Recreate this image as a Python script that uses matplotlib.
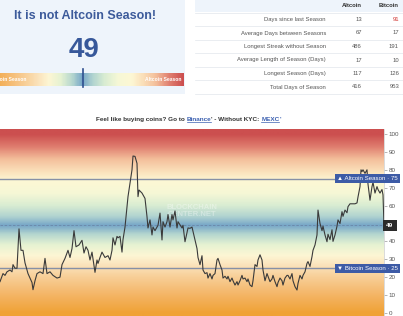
import numpy as np
import matplotlib.pyplot as plt
import matplotlib.colors as colors
from matplotlib.patches import Rectangle

plt.rcParams['font.family'] = ['Liberation Sans', 'DejaVu Sans']

# indice de temporada altcoin (lectura aproximada de la grafica)
dia = [0, 3, 5, 7, 10, 12, 13, 15, 17, 19, 21, 23, 25, 28, 30, 32, 33, 35, 37, 40,
       43, 45, 47, 50, 53, 57, 60, 62, 65, 68, 70, 72, 74, 76, 79, 82, 84, 86, 88, 90,
       92, 95, 97, 98, 100, 102, 105, 108, 110, 112, 113, 115, 117, 118, 120, 122, 123, 125, 127, 128,
       130, 132, 133, 135, 137, 138, 139, 142, 145, 147, 148, 150, 152, 153, 155, 158, 160, 162, 163, 165,
       167, 168, 170, 172, 173, 175, 177, 178, 182, 183, 185, 188, 190, 192, 193, 195, 197, 198, 200, 202,
       203, 205, 207, 208, 210, 212, 213, 215, 217, 218, 220, 222, 223, 225, 227, 228, 230, 232, 233, 235,
       237, 238, 240, 242, 243, 245, 247, 248, 250, 252, 253, 255, 257, 258, 260, 262, 263, 265, 267, 268,
       270, 272, 273, 275, 277, 278, 280, 282, 283, 285, 287, 288, 290, 292, 293, 295, 297, 298, 300, 302,
       303, 305, 307, 308, 310, 312, 313, 315, 317, 318, 320, 322, 323, 325, 327, 328, 330, 332, 333, 335,
       337, 338, 340, 342, 343, 345, 347, 348, 350, 352, 355, 357, 358, 360, 361, 362, 363, 365, 367, 368,
       370, 372, 373, 375, 377, 378, 380, 382, 383, 384]
indice = [17.5, 22, 21, 23, 24, 23, 27, 25, 25, 47, 35, 35, 28, 22, 19.5, 17, 13, 18, 22, 23,
          22, 30.5, 22, 23, 21, 19.5, 20, 27, 30.5, 35, 31, 36, 46, 37, 38, 40.6, 33.5, 37, 35, 29.6,
          34, 22.7, 29.6, 27.7, 31, 34, 31, 32, 29.6, 35, 42, 38, 42.8, 42, 42.8, 34, 41, 48, 59, 65,
          72.6, 80, 87.7, 87.5, 83.6, 65, 68.7, 67, 64, 53.8, 47.5, 52, 43.6, 48, 46, 49, 55.8, 40.8, 51, 48,
          51, 55, 48, 55, 52, 57, 47.5, 51, 47.5, 49, 39.8, 47.5, 47.3, 48, 45.6, 40.8, 36, 31, 27, 32,
          24, 22, 22.5, 19.5, 22, 19, 21, 22, 29.6, 30.5, 27, 24, 19.5, 20.5, 19, 20.5, 17.5, 19.5, 18, 15.6,
          17.5, 15.6, 18, 21, 19, 19.5, 17.5, 19, 15.6, 14.7, 18, 27, 26, 29.6, 32.5, 29.6, 24, 18, 22, 20.5,
          17.5, 19, 21, 17.5, 14.7, 17, 19.5, 18, 15.6, 19.5, 21, 21, 19, 22, 18, 14.7, 12.8, 16.5, 21, 19,
          21, 23, 27.7, 28.7, 26, 31.5, 35, 38, 43.6, 57.5, 50, 46, 48.5, 43.6, 39.8, 44, 41, 46.5, 40, 43.6,
          48.5, 52, 50, 56.6, 54, 57.5, 56, 59.4, 61, 61, 61, 61.5, 64.8, 70.6, 80, 79, 80, 78, 80, 72,
          63, 70.6, 73, 67, 70.6, 69, 67, 69, 66, 49]

valor_actual = 49
umbral_alt = 75
umbral_btc = 25

tabla_filas = ["Days since last Season", "Average Days between Seasons", "Longest Streak without Season",
               "Average Length of Season (Days)", "Longest Season (Days)", "Total Days of Season"]
tabla_alt = [13, 67, 486, 17, 117, 416]
tabla_btc = [91, 17, 191, 10, 126, 953]

# colores del fondo (valor, color)
paradas = [(0, '#f0a236'), (10, '#f4b566'), (20, '#f8cf98'), (27, '#fbe4bd'), (32, '#fdf6d4'),
           (38, '#e6f2d2'), (44, '#b4d6cf'), (49, '#76a6c8'), (54, '#b0d3d0'), (60, '#d8ecd2'),
           (67, '#f6f8d6'), (74, '#fdf7d4'), (79, '#fbe2bc'), (86, '#f4c09c'), (93, '#e07f70'),
           (100, '#cc4f4f')]
cmap = colors.LinearSegmentedColormap.from_list('temporada', [(v / 100, c) for v, c in paradas])

fig = plt.figure(figsize=(4.03, 3.16), dpi=100)
fig.patch.set_facecolor('white')

# capa superior en pixeles
top = fig.add_axes([0, 0, 1, 1])
top.axis('off')

top.add_patch(Rectangle((0, 0), 185, 94, fc='#eef4fb', ec='none', zorder=1))
top.text(85, 16, "It is not Altcoin Season!", ha='center', va='center', fontsize=9,
         fontweight='bold', color='#3d5b9b')
top.text(84, 50, str(valor_actual), ha='center', va='center', fontsize=20,
         fontweight='bold', color='#37589a')
barra = np.linspace(0, 100, 300)[None, :]
top.imshow(barra, cmap=cmap, vmin=0, vmax=100, extent=[-15, 184, 86, 73], aspect='auto', zorder=2)
top.set_xlim(0, 403)
top.set_ylim(316, 0)
top.text(-10, 79.5, "Bitcoin Season", ha='left', va='center', fontsize=3.6, color='white',
         fontweight='bold', zorder=3)
top.text(181, 79.5, "Altcoin Season", ha='right', va='center', fontsize=3.6, color='white',
         fontweight='bold', zorder=3)
top.plot([-15 + 1.99 * valor_actual] * 2, [69, 87], color='#2f4f8f', lw=1.2, zorder=3)

# tabla
top.add_patch(Rectangle((195, 0), 208, 12, fc='#eef4fb', ec='none', zorder=1))
top.text(362, 5.5, "Altcoin", ha='right', va='center', fontsize=4.2, fontweight='bold', color='#333333')
top.text(399, 5.5, "Bitcoin", ha='right', va='center', fontsize=4.2, fontweight='bold', color='#333333')
for i, fila in enumerate(tabla_filas):
    yy = 19.5 + i * 13.5
    top.plot([195, 403], [yy - 6.75, yy - 6.75], color='#e2e6eb', lw=0.5)
    top.text(326, yy, fila, ha='right', va='center', fontsize=4.2, color='#555555')
    top.text(362, yy, str(tabla_alt[i]), ha='right', va='center', fontsize=4.2, color='#555555')
    top.text(399, yy, str(tabla_btc[i]), ha='right', va='center', fontsize=4.2,
             color='#d0312d' if i == 0 else '#555555')
top.plot([195, 403], [19.5 + 6 * 13.5 - 6.75] * 2, color='#e2e6eb', lw=0.5)

# texto de enlaces
kw = dict(fontsize=4.6, fontweight='bold', va='bottom', ha='left')
t1 = top.text(96, 122, "Feel like buying coins? Go to ", color='#333333', **kw)
t2 = top.annotate("Binance", xy=(1, 0), xycoords=t1, color='#3a5fb0', **kw)
t3 = top.annotate("' - Without KYC: ", xy=(1, 0), xycoords=t2, color='#333333', **kw)
t4 = top.annotate("MEXC", xy=(1, 0), xycoords=t3, color='#3a5fb0', **kw)
t5 = top.annotate("'", xy=(1, 0), xycoords=t4, color='#3a5fb0', **kw)

# grafica principal
ax = fig.add_axes([0, 0, 384 / 403, (316 - 129) / 316])
ymin, ymax = -1.7, 102.8
fondo = np.linspace(ymin, ymax, 400)[:, None]
ax.imshow(fondo, cmap=cmap, vmin=0, vmax=100, origin='lower', aspect='auto',
          extent=[dia[0], dia[-1], ymin, ymax], zorder=0)
ax.set_xlim(dia[0], dia[-1])
ax.set_ylim(ymin, ymax)

ax.axhline(umbral_alt, color='#8690a6', lw=1.0, zorder=1)
ax.axhline(umbral_btc, color='#8690a6', lw=1.0, zorder=1)
ax.axhline(valor_actual, color='#6b86a8', lw=0.6, ls=(0, (3, 2)), zorder=1)
ax.text(192, 57, "BLOCKCHAIN\nCENTER.NET", ha='center', va='center', fontsize=5.5,
        color='white', alpha=0.35, fontweight='bold', linespacing=0.9, zorder=1)
ax.plot(dia, indice, color='#3a3a3a', lw=0.8, zorder=2)

ax.yaxis.tick_right()
marcas = np.arange(0, 101, 10)
ax.set_yticks(marcas)
ax.set_yticklabels(['' if m == 50 else str(m) for m in marcas])
ax.set_xticks([])
ax.tick_params(axis='y', labelsize=4.5, labelcolor='#555555', length=2, width=0.5,
               color='#999999', pad=1.5)
for s in ['top', 'left', 'bottom']:
    ax.spines[s].set_visible(False)
ax.spines['right'].set_color('#cccccc')
ax.spines['right'].set_linewidth(0.5)

trans = ax.get_yaxis_transform()
ax.text(1.036, umbral_alt, "\u25b2 Altcoin Season \u00b7 " + str(umbral_alt), transform=trans,
        ha='right', va='center', fontsize=4.4, color='white', clip_on=False, zorder=6,
        bbox=dict(boxstyle='square,pad=0.35', fc='#3d5ba6', ec='none'))
ax.text(1.036, umbral_btc, "\u25bc Bitcoin Season \u00b7 " + str(umbral_btc), transform=trans,
        ha='right', va='center', fontsize=4.4, color='white', clip_on=False, zorder=6,
        bbox=dict(boxstyle='square,pad=0.35', fc='#3d5ba6', ec='none'))
ax.text(1.006, valor_actual, str(valor_actual), transform=trans, ha='left', va='center',
        fontsize=4.6, color='white', fontweight='bold', clip_on=False, zorder=6,
        bbox=dict(boxstyle='square,pad=0.5', fc='#2a2a2a', ec='none'))

# subrayado de enlaces
fig.canvas.draw()
inv = top.transData.inverted()
for t in [t2, t4]:
    bb = t.get_window_extent()
    (x0, y0), (x1, _) = inv.transform([[bb.x0, bb.y0], [bb.x1, bb.y1]])
    top.plot([x0, x1], [y0 - 0.3, y0 - 0.3], color='#3a5fb0', lw=0.5)

fig.savefig('out.png', dpi=100)
